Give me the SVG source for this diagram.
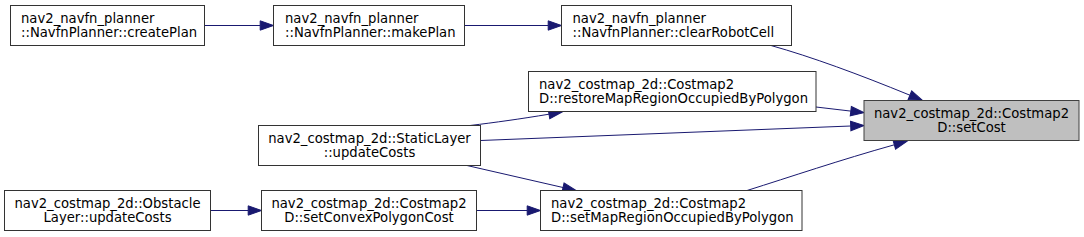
<svg xmlns="http://www.w3.org/2000/svg" width="1084" height="237" viewBox="0 0 1084 237">
<style>
  .box { fill: #ffffff; stroke: #333333; stroke-width: 1; }
  .cur { fill: #bfbfbf; stroke: #404040; stroke-width: 1; }
  text { font-family: "DejaVu Sans", "Liberation Sans", sans-serif; font-size: 13.2px; fill: #000000; }
  .c { text-anchor: middle; }
  .e { fill: none; stroke: #191970; stroke-width: 1; }
</style>
<defs>
  <marker id="arr" markerUnits="userSpaceOnUse" markerWidth="16" markerHeight="12" refX="0" refY="0" viewBox="0 -6 16 12" orient="auto" overflow="visible">
    <path d="M0,-4.67 L13.33,0 L0,4.67 z" fill="#191970" stroke="#191970" stroke-width="1"/>
  </marker>
</defs>
<rect width="1084" height="237" fill="#ffffff"/>
<g id="edges">
  <path class="e" marker-end="url(#arr)" d="M204.5,25.5 L260.2,25.5"/>
  <path class="e" marker-end="url(#arr)" d="M464.5,25.5 L548.2,25.5"/>
  <path class="e" marker-end="url(#arr)" d="M771,45.5 C812,57 858,74 909.9,95.2"/>
  <path class="e" marker-end="url(#arr)" d="M816,107 L850.8,111.1"/>
  <path class="e" marker-end="url(#arr)" d="M480.5,140.5 L850.7,126"/>
  <path class="e" marker-end="url(#arr)" d="M470,125.5 C495,122.5 520,119 549,114.2"/>
  <path class="e" marker-end="url(#arr)" d="M467,165.5 L563,187.5"/>
  <path class="e" marker-end="url(#arr)" d="M747,190.5 C790,177 840,160 894.3,144.8"/>
  <path class="e" marker-end="url(#arr)" d="M476.5,210.5 L527.2,210.5"/>
  <path class="e" marker-end="url(#arr)" d="M210.5,210.5 L248.2,210.5"/>
</g>
<g id="node-createPlan">
  <rect class="box" x="10.5" y="5.5" width="194" height="40"/>
  <text x="21" y="22.5">nav2_navfn_planner</text>
  <text x="21" y="36.5">::NavfnPlanner::createPlan</text>
</g>
<g id="node-makePlan">
  <rect class="box" x="273.5" y="5.5" width="191" height="40"/>
  <text x="285" y="22.5">nav2_navfn_planner</text>
  <text x="285" y="36.5">::NavfnPlanner::makePlan</text>
</g>
<g id="node-clearRobotCell">
  <rect class="box" x="561.5" y="5.5" width="230" height="40"/>
  <text x="572.5" y="22.5">nav2_navfn_planner</text>
  <text x="572.5" y="36.5">::NavfnPlanner::clearRobotCell</text>
</g>
<g id="node-restoreMapRegion">
  <rect class="box" x="528.5" y="71.5" width="287.5" height="40"/>
  <text x="539" y="88.5">nav2_costmap_2d::Costmap2</text>
  <text x="539" y="102.5">D::restoreMapRegionOccupiedByPolygon</text>
</g>
<g id="node-setCost">
  <rect class="cur" x="864" y="100.5" width="215" height="40"/>
  <text class="c" x="971.5" y="117.5">nav2_costmap_2d::Costmap2</text>
  <text class="c" x="971.5" y="131.5">D::setCost</text>
</g>
<g id="node-StaticLayer">
  <rect class="box" x="258.5" y="125.5" width="222" height="40"/>
  <text class="c" x="369.5" y="142.5">nav2_costmap_2d::StaticLayer</text>
  <text class="c" x="369.5" y="156.5">::updateCosts</text>
</g>
<g id="node-setMapRegion">
  <rect class="box" x="540.5" y="190.5" width="261.5" height="40"/>
  <text x="551" y="207.5">nav2_costmap_2d::Costmap2</text>
  <text x="551" y="221.5">D::setMapRegionOccupiedByPolygon</text>
</g>
<g id="node-ObstacleLayer">
  <rect class="box" x="4.5" y="190.5" width="206" height="40"/>
  <text class="c" x="107.5" y="207.5">nav2_costmap_2d::Obstacle</text>
  <text class="c" x="107.5" y="221.5">Layer::updateCosts</text>
</g>
<g id="node-setConvexPolygonCost">
  <rect class="box" x="261.5" y="190.5" width="215" height="40"/>
  <text class="c" x="369" y="207.5">nav2_costmap_2d::Costmap2</text>
  <text class="c" x="369" y="221.5">D::setConvexPolygonCost</text>
</g>
</svg>
